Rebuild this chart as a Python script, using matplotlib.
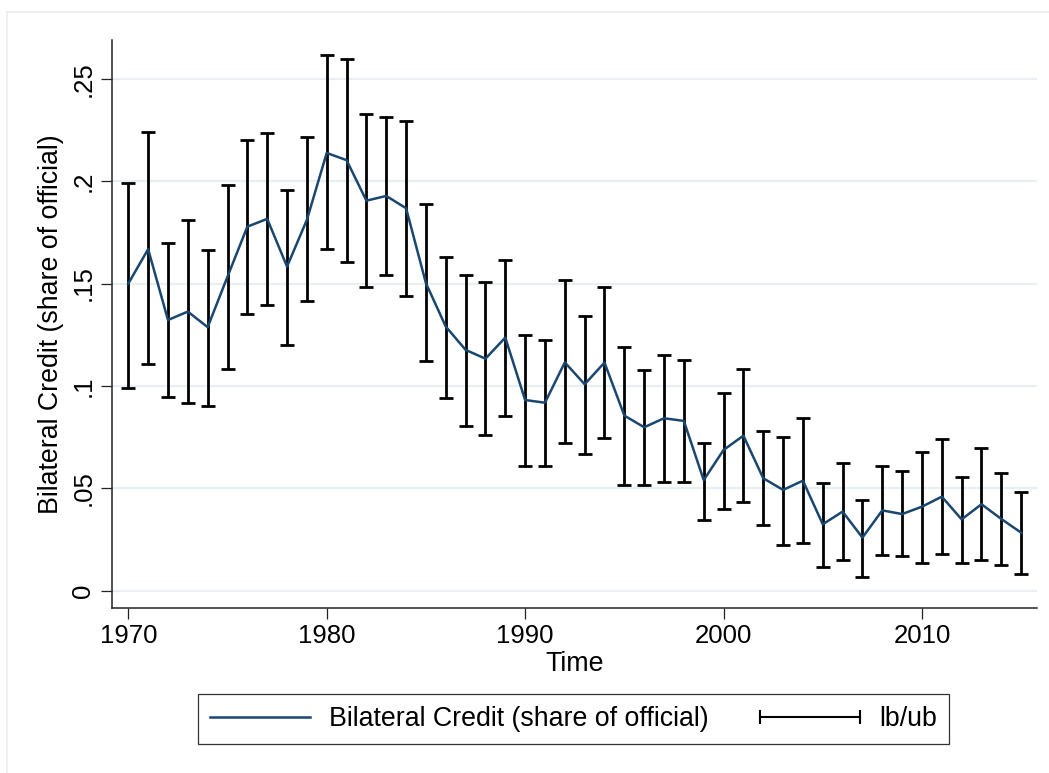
import matplotlib
matplotlib.use('Agg')
import matplotlib.pyplot as plt
from matplotlib.lines import Line2D
from matplotlib.patches import Rectangle
from matplotlib.legend_handler import HandlerLine2D

plt.rcParams['font.family'] = ['Liberation Sans', 'DejaVu Sans']

years = list(range(1970, 2016))

share = [0.1500, 0.1668, 0.1322, 0.1363, 0.1287, 0.1534, 0.1778, 0.1816, 0.1583, 0.1811,
         0.2138, 0.2103, 0.1905, 0.1928, 0.1868, 0.1502, 0.1290, 0.1176, 0.1133, 0.1236,
         0.0931, 0.0918, 0.1115, 0.1008, 0.1114, 0.0855, 0.0798, 0.0842, 0.0829, 0.0540,
         0.0687, 0.0757, 0.0549, 0.0492, 0.0537, 0.0324, 0.0386, 0.0259, 0.0392, 0.0374,
         0.0410, 0.0459, 0.0348, 0.0422, 0.0350, 0.0283]

upper = [0.1993, 0.2238, 0.1699, 0.1812, 0.1664, 0.1981, 0.2202, 0.2236, 0.1956, 0.2217,
         0.2617, 0.2596, 0.2328, 0.2316, 0.2293, 0.1891, 0.1632, 0.1541, 0.1507, 0.1617,
         0.1250, 0.1225, 0.1518, 0.1342, 0.1482, 0.1192, 0.1078, 0.1153, 0.1128, 0.0723,
         0.0964, 0.1084, 0.0781, 0.0752, 0.0842, 0.0526, 0.0624, 0.0444, 0.0610, 0.0584,
         0.0679, 0.0741, 0.0557, 0.0695, 0.0573, 0.0482]

lower = [0.0989, 0.1106, 0.0945, 0.0915, 0.0904, 0.1083, 0.1353, 0.1397, 0.1199, 0.1417,
         0.1669, 0.1607, 0.1482, 0.1541, 0.1441, 0.1122, 0.0943, 0.0803, 0.0760, 0.0855,
         0.0610, 0.0610, 0.0723, 0.0668, 0.0747, 0.0516, 0.0516, 0.0532, 0.0529, 0.0345,
         0.0399, 0.0434, 0.0319, 0.0221, 0.0231, 0.0117, 0.0148, 0.0065, 0.0174, 0.0168,
         0.0136, 0.0179, 0.0136, 0.0151, 0.0125, 0.0081]

y_ticks = [0, 0.05, 0.1, 0.15, 0.2, 0.25]
y_labels = ['0', '.05', '.1', '.15', '.2', '.25']
x_ticks = [1970, 1980, 1990, 2000, 2010]

navy = '#1a476f'
fs_tick = 18.5
fs_lab = 19.3

fig = plt.figure(figsize=(10.49, 7.73), dpi=100)
ax = fig.add_axes([0.1068, 0.2138, 0.8818, 0.7345])

# outer graph region frame
fig.patches.append(Rectangle((7 / 1049, -0.05), 1.1, 1.05 - 12 / 773,
                             transform=fig.transFigure, fill=False,
                             edgecolor='#ececec', linewidth=1.2))

for yt in y_ticks:
    ax.axhline(yt, color='#e8eff2', linewidth=1.6, zorder=0)

err_lo = [s - l for s, l in zip(share, lower)]
err_hi = [u - s for s, u in zip(share, upper)]
ax.errorbar(years, share, yerr=[err_lo, err_hi], fmt='none', ecolor='black',
            elinewidth=2.0, capsize=5.0, capthick=2.0, zorder=2)
ax.plot(years, share, color=navy, linewidth=1.8, zorder=3)

ax.set_xlim(1969.18, 2015.8)
ax.set_ylim(-0.00836, 0.269)
ax.set_yticks(y_ticks)
ax.set_yticklabels(y_labels, rotation=90, va='center')
ax.set_xticks(x_ticks)

for side in ['top', 'right']:
    ax.spines[side].set_visible(False)
for side in ['left', 'bottom']:
    ax.spines[side].set_linewidth(1.1)
    ax.spines[side].set_color('#222222')

ax.tick_params(axis='both', length=8, width=0.9, color='#222222',
               labelsize=fs_tick, pad=4)
ax.set_xlabel('Time', fontsize=fs_lab, labelpad=2)
ax.set_ylabel('Bilateral Credit (share of official)', fontsize=fs_lab, labelpad=5)

line_handle = Line2D([], [], color=navy, linewidth=1.8)
cap_handle = Line2D([], [], color='black', linewidth=1.5, marker='|',
                    markersize=10, markeredgewidth=1.5)
leg = fig.legend([line_handle, cap_handle],
                 ['Bilateral Credit (share of official)', 'lb/ub'],
                 loc='center', bbox_to_anchor=(0.5467, 0.0698), ncol=2,
                 fontsize=fs_lab, frameon=True, fancybox=False,
                 handler_map={line_handle: HandlerLine2D(numpoints=1),
                              cap_handle: HandlerLine2D(numpoints=2, marker_pad=0)},
                 handlelength=3.73, handletextpad=0.7, columnspacing=1.94,
                 borderpad=0.45)
leg.get_frame().set_edgecolor('black')
leg.get_frame().set_linewidth(0.9)

fig.savefig('out.png', dpi=100)
